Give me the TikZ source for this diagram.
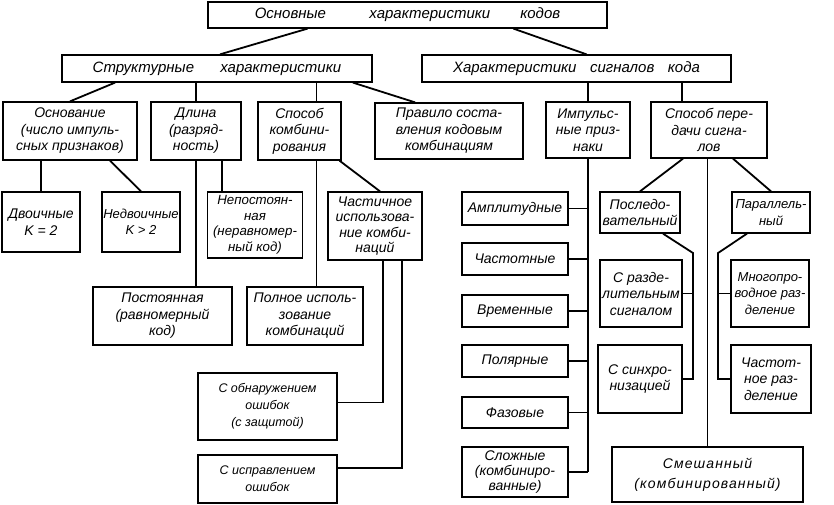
\documentclass[tikz,border=0pt]{standalone}
\usepackage{fontspec}
\setmainfont{Liberation Sans}

\begin{document}
\begin{tikzpicture}[x=1pt, y=-1pt]
		\useasboundingbox (0,0) rectangle (834,505);
		\begin{scope}[every node/.style={draw, line width=1.3pt, align=center, inner sep=1pt, font=\itshape\fontsize{14}{16.5}\selectfont}]
			% top levels
			\node[minimum width=399pt, minimum height=26pt, font=\itshape\fontsize{15}{17}\selectfont] (root) at (407.5,15) {Основные\hspace{2.9em}характеристики\hspace{2em}кодов};
			\node[minimum width=310pt, minimum height=27pt, font=\itshape\fontsize{15}{17}\selectfont] (struct) at (217,68.5) {Структурные\hspace{1.75em}характеристики};
			\node[minimum width=309pt, minimum height=27pt, font=\itshape\fontsize{15}{17}\selectfont] (signal) at (576.5,68.5) {Характеристики\hspace{0.9em}сигналов\hspace{0.9em}кода};
			% structural characteristics
			\node[minimum width=134pt, minimum height=58pt] (osn) at (70,131) {Основание\\(число импуль-\\сных признаков)};
			\node[minimum width=90pt, minimum height=58pt] (dlina) at (196,131) {Длина\\(разряд-\\ность)};
			\node[minimum width=83pt, minimum height=58pt] (sposob) at (299.5,131) {Способ\\комбини-\\рования};
			\node[minimum width=148pt, minimum height=56pt] (pravilo) at (449,131) {Правило соста-\\вления кодовым\\комбинациям};
			\node[minimum width=78pt, minimum height=60pt] (dvoich) at (41,222) {Двоичные\\K = 2};
			\node[minimum width=78pt, minimum height=60pt, font=\itshape\fontsize{13}{16.5}\selectfont] (nedvoich) at (141,222) {Недвоичные\\K > 2};
			\node[minimum width=95pt, minimum height=66pt, font=\itshape\fontsize{13.3}{15.5}\selectfont] (nepost) at (255,225) {Непостоян-\\ная\\(неравномер-\\ный код)};
			\node[minimum width=94pt, minimum height=68pt, font=\itshape\fontsize{14}{15.5}\selectfont] (chastich) at (375,226) {Частичное\\использова-\\ние комби-\\наций};
			\node[minimum width=139pt, minimum height=58pt] (post) at (162.5,316) {Постоянная\\(равномерный\\код)};
			\node[minimum width=116pt, minimum height=58pt] (polnoe) at (305,316) {Полное исполь-\\зование\\комбинаций};
			\node[minimum width=139pt, minimum height=67pt, font=\itshape\fontsize{12.5}{17}\selectfont] (obnar) at (267.5,406.5) {С обнаружением\\ошибок\\(с защитой)};
			\node[minimum width=139pt, minimum height=48pt, font=\itshape\fontsize{12.5}{17}\selectfont] (ispr) at (267.5,479) {С исправлением\\ошибок};
			% signal characteristics
			\node[minimum width=84pt, minimum height=56pt] (impuls) at (588,130) {Импульс-\\ные приз-\\наки};
			\node[minimum width=116pt, minimum height=56pt] (peredacha) at (709,130) {Способ пере-\\дачи сигна-\\лов};
			\node[minimum width=106pt, minimum height=33pt] (ampl) at (515,208.5) {Амплитудные};
			\node[minimum width=106pt, minimum height=32pt] (chastot) at (515,259) {Частотные};
			\node[minimum width=106pt, minimum height=32pt] (vrem) at (515,311) {Временные};
			\node[minimum width=106pt, minimum height=32pt] (polyar) at (515,361) {Полярные};
			\node[minimum width=106pt, minimum height=31pt] (fazov) at (515,412.5) {Фазовые};
			\node[minimum width=106pt, minimum height=50pt, font=\itshape\fontsize{14}{15}\selectfont] (slozh) at (515,472) {Сложные\\(комбиниро-\\ванные)};
			\node[minimum width=80pt, minimum height=41pt] (posled) at (640,212.5) {Последо-\\вательный};
			\node[minimum width=78pt, minimum height=41pt, font=\itshape\fontsize{13}{16.5}\selectfont] (parall) at (771,212.5) {Параллель-\\ный};
			\node[minimum width=82pt, minimum height=67pt] (srazd) at (641,293.5) {С разде-\\лительным\\сигналом};
			\node[minimum width=84pt, minimum height=68pt] (ssinhr) at (640,379) {С синхро-\\низацией};
			\node[minimum width=78pt, minimum height=67pt, font=\itshape\fontsize{13}{16.5}\selectfont] (mnogopr) at (770,293.5) {Многопро-\\водное раз-\\деление};
			\node[minimum width=80pt, minimum height=68pt] (chastraz) at (771,379) {Частот-\\ное раз-\\деление};
			\node[minimum width=191pt, minimum height=55pt, font=\itshape\fontsize{14}{20}\selectfont\addfontfeature{LetterSpace=8}] (smesh) at (707.5,474.5) {Смешанный\\(комбинированный)};
		\end{scope}
		\coordinate (pk) at (693,253);
		\coordinate (pp) at (718,253);
		\begin{scope}[every path/.style={line width=1.8pt}]
			\draw ([xshift=-100pt]root.south) -- ([xshift=3pt]struct.north);
			\draw ([xshift=106pt]root.south) -- ([xshift=10pt]signal.north);
			% structural
			\draw ([xshift=-102pt]struct.south) -- (osn.north);
			\draw (dlina.north |- struct.south) -- (dlina.north);
			\draw ([xshift=17pt]sposob.north |- struct.south) -- ([xshift=17pt]sposob.north);
			\draw ([xshift=136pt]struct.south) -- ([xshift=-34pt]pravilo.north);
			\draw (dvoich.north |- osn.south) -- (dvoich.north);
			\draw ([xshift=40pt]osn.south) -- (nedvoich.north);
			\draw (dlina.south) -- (dlina.south |- post.north);
			\draw ([xshift=26pt]dlina.south) -- ([xshift=26pt]dlina.south |- nepost.north);
			\draw ([xshift=17pt]sposob.south) -- ([xshift=17pt]sposob.south |- polnoe.north);
			\draw ([xshift=40pt]sposob.south) -- ([xshift=5pt]chastich.north);
			\draw ([xshift=8pt]chastich.south) |- ([yshift=4pt]obnar.east);
			\draw ([xshift=27pt]chastich.south) |- ([yshift=11pt]ispr.east);
			% signals
			\draw (impuls.north |- signal.south) -- (impuls.north);
			\draw ([xshift=-27pt]peredacha.north |- signal.south) -- ([xshift=-27pt]peredacha.north);
			\draw (impuls.south) -- (impuls.south |- slozh.east);
			\foreach \b in {ampl,chastot,vrem,polyar,fazov,slozh}
				\draw (\b.east) -- (impuls.south |- \b.east);
			\draw ([xshift=-26pt]peredacha.south) -- (posled.north);
			\draw ([xshift=24pt]peredacha.south) -- (parall.north);
			\draw (smesh.north |- peredacha.south) -- (smesh.north);
			\draw ([xshift=23pt]posled.south) -- (pk) |- (ssinhr.east);
			\draw (pk |- srazd.east) -- (srazd.east);
			\draw ([xshift=-24pt]parall.south) -- (pp) |- (chastraz.west);
			\draw (pp |- mnogopr.west) -- (mnogopr.west);
		\end{scope}
\end{tikzpicture}
\end{document}
